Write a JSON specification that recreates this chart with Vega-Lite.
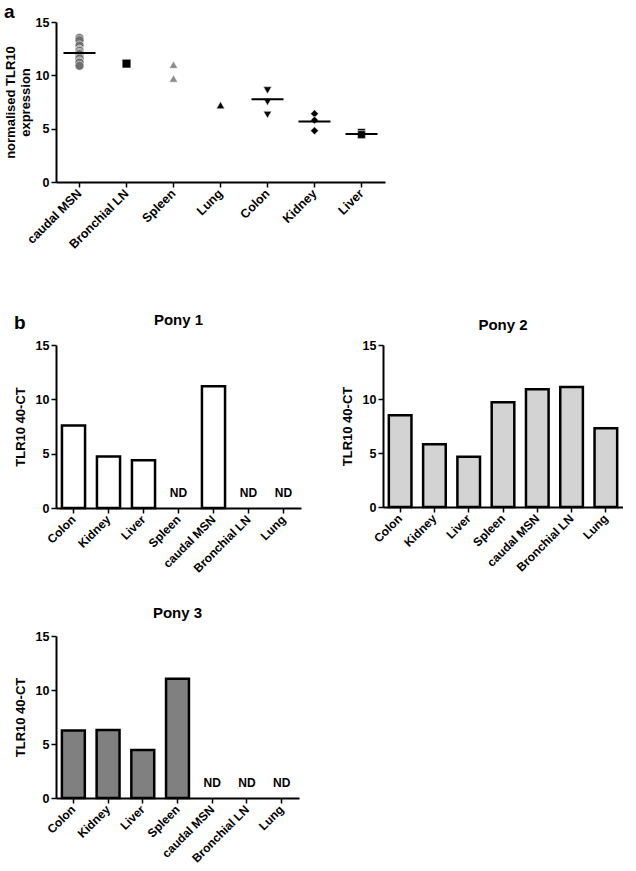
{
  "$schema": "https://vega.github.io/schema/vega-lite/v6.json",
  "padding": {"left": 4, "top": 3, "right": 0, "bottom": 0},
  "background": "white",
  "config": {
    "font": "Liberation Sans",
    "view": {"stroke": null},
    "scale": {"nice": false},
    "axis": {"domainColor": "black", "domainWidth": 2, "tickColor": "black", "tickWidth": 1.5, "tickSize": 5, "labelColor": "black", "labelFont": "Liberation Sans", "labelFontWeight": "bold", "labelFontSize": 12.5, "titleFont": "Liberation Sans", "titleFontWeight": "bold", "titleFontSize": 13, "titleColor": "black", "grid": false},
    "title": {"font": "Liberation Sans", "fontWeight": "bold", "fontSize": 15, "color": "black"}
  },
  "datasets": {
    "a": [
      {"tissue": "caudal MSN", "value": 13.5},
      {"tissue": "caudal MSN", "value": 13.3},
      {"tissue": "caudal MSN", "value": 12.8},
      {"tissue": "caudal MSN", "value": 12.4},
      {"tissue": "caudal MSN", "value": 12.3},
      {"tissue": "caudal MSN", "value": 12.1},
      {"tissue": "caudal MSN", "value": 12.0},
      {"tissue": "caudal MSN", "value": 11.7},
      {"tissue": "caudal MSN", "value": 11.6},
      {"tissue": "caudal MSN", "value": 11.3},
      {"tissue": "caudal MSN", "value": 11.2},
      {"tissue": "caudal MSN", "value": 10.9},
      {"tissue": "Bronchial LN", "value": 11.1},
      {"tissue": "Spleen", "value": 11.0},
      {"tissue": "Spleen", "value": 9.7},
      {"tissue": "Lung", "value": 7.2},
      {"tissue": "Colon", "value": 8.6},
      {"tissue": "Colon", "value": 8.6},
      {"tissue": "Colon", "value": 7.5},
      {"tissue": "Colon", "value": 6.3},
      {"tissue": "Kidney", "value": 6.4},
      {"tissue": "Kidney", "value": 5.8},
      {"tissue": "Kidney", "value": 4.8},
      {"tissue": "Liver", "value": 4.65},
      {"tissue": "Liver", "value": 4.4},
      {"tissue": "Liver", "value": 4.45}
    ],
    "b": [
      {"pony": "Pony 1", "tissue": "Colon", "value": 7.6},
      {"pony": "Pony 1", "tissue": "Kidney", "value": 4.75},
      {"pony": "Pony 1", "tissue": "Liver", "value": 4.4},
      {"pony": "Pony 1", "tissue": "Spleen", "value": null},
      {"pony": "Pony 1", "tissue": "caudal MSN", "value": 11.2},
      {"pony": "Pony 1", "tissue": "Bronchial LN", "value": null},
      {"pony": "Pony 1", "tissue": "Lung", "value": null},
      {"pony": "Pony 2", "tissue": "Colon", "value": 8.5},
      {"pony": "Pony 2", "tissue": "Kidney", "value": 5.8},
      {"pony": "Pony 2", "tissue": "Liver", "value": 4.65},
      {"pony": "Pony 2", "tissue": "Spleen", "value": 9.7},
      {"pony": "Pony 2", "tissue": "caudal MSN", "value": 10.9},
      {"pony": "Pony 2", "tissue": "Bronchial LN", "value": 11.1},
      {"pony": "Pony 2", "tissue": "Lung", "value": 7.3},
      {"pony": "Pony 3", "tissue": "Colon", "value": 6.25},
      {"pony": "Pony 3", "tissue": "Kidney", "value": 6.3},
      {"pony": "Pony 3", "tissue": "Liver", "value": 4.45},
      {"pony": "Pony 3", "tissue": "Spleen", "value": 11.05},
      {"pony": "Pony 3", "tissue": "caudal MSN", "value": null},
      {"pony": "Pony 3", "tissue": "Bronchial LN", "value": null},
      {"pony": "Pony 3", "tissue": "Lung", "value": null}
    ]
  },
  "spacing": 62,
  "vconcat": [
    {
      "title": {"text": "a", "anchor": "start", "fontSize": 19, "offset": -4, "dy": 2},
      "width": 329,
      "height": 160,
      "data": {"name": "a"},
      "layer": [
        {
          "mark": {"type": "point", "filled": true, "opacity": 1, "stroke": "white", "strokeWidth": 0.6},
          "encoding": {
            "x": {"field": "tissue", "type": "nominal", "sort": ["caudal MSN", "Bronchial LN", "Spleen", "Lung", "Colon", "Kidney", "Liver"], "scale": {"type": "band", "paddingInner": 0.3, "paddingOuter": 0.15}, "axis": {"title": null, "labelAngle": -45, "labelAlign": "right", "labelBaseline": "middle", "labelPadding": 4, "labelFontSize": 12.5}},
            "y": {"field": "value", "type": "quantitative", "scale": {"domain": [0, 15], "nice": false}, "axis": {"values": [0, 5, 10, 15], "title": ["normalised TLR10", "expression"], "titlePadding": 3, "titleLineHeight": 15}},
            "shape": {"field": "tissue", "type": "nominal", "scale": {"domain": ["caudal MSN", "Bronchial LN", "Spleen", "Lung", "Colon", "Kidney", "Liver"], "range": ["circle", "square", "triangle-up", "triangle-up", "triangle-down", "diamond", "square"]}, "legend": null},
            "color": {"field": "tissue", "type": "nominal", "scale": {"domain": ["caudal MSN", "Bronchial LN", "Spleen", "Lung", "Colon", "Kidney", "Liver"], "range": ["#6f6f6f", "#000000", "#8c8c8c", "#000000", "#000000", "#000000", "#000000"]}, "legend": null},
            "size": {"field": "tissue", "type": "nominal", "scale": {"domain": ["caudal MSN", "Bronchial LN", "Spleen", "Lung", "Colon", "Kidney", "Liver"], "range": [80, 60, 80, 45, 60, 80, 60]}, "legend": null}
          }
        },
        {
          "transform": [{"filter": {"field": "tissue", "oneOf": ["caudal MSN", "Colon", "Kidney", "Liver"]}}],
          "mark": {"type": "tick", "orient": "horizontal", "size": 32, "thickness": 2, "color": "black"},
          "encoding": {
            "x": {"field": "tissue", "type": "nominal", "sort": ["caudal MSN", "Bronchial LN", "Spleen", "Lung", "Colon", "Kidney", "Liver"]},
            "y": {"aggregate": "mean", "field": "value", "type": "quantitative"}
          }
        }
      ]
    },
    {
      "spacing": 31,
      "vconcat": [
        {
          "spacing": 40,
          "align": "none",
          "hconcat": [
            {
              "title": {"text": "b", "anchor": "start", "fontSize": 19, "offset": -20},
              "hconcat": [
                {
                  "title": {"text": "Pony 1", "offset": 11},
                  "width": 245,
                  "height": 163,
                  "data": {"name": "b"},
                  "transform": [{"filter": "datum.pony == 'Pony 1'"}],
                  "layer": [
                    {
                      "mark": {"type": "bar", "fill": "#ffffff", "stroke": "black", "strokeWidth": 2.5},
                      "encoding": {
                        "x": {"field": "tissue", "type": "nominal", "sort": ["Colon", "Kidney", "Liver", "Spleen", "caudal MSN", "Bronchial LN", "Lung"], "scale": {"paddingInner": 0.34, "paddingOuter": 0.17}, "axis": {"title": null, "labelAngle": -45, "labelAlign": "right", "labelBaseline": "middle", "labelPadding": 4, "labelFontSize": 12}},
                        "y": {"field": "value", "type": "quantitative", "scale": {"domain": [0, 15], "nice": false}, "axis": {"values": [0, 5, 10, 15], "title": "TLR10 40-CT", "titlePadding": 8}}
                      }
                    },
                    {
                      "transform": [{"filter": "datum.value == null"}],
                      "mark": {"type": "text", "text": "ND", "fontWeight": "bold", "fontSize": 12, "dy": -15, "color": "black"},
                      "encoding": {
                        "x": {"field": "tissue", "type": "nominal", "sort": ["Colon", "Kidney", "Liver", "Spleen", "caudal MSN", "Bronchial LN", "Lung"]},
                        "y": {"datum": 0, "type": "quantitative"}
                      }
                    }
                  ]
                }
              ]
            },
            {
              "title": {"text": "Pony 2", "offset": 6},
              "width": 240,
              "height": 162,
              "data": {"name": "b"},
              "transform": [{"filter": "datum.pony == 'Pony 2'"}],
              "layer": [
                {
                  "mark": {"type": "bar", "fill": "#d3d3d3", "stroke": "black", "strokeWidth": 2.5},
                  "encoding": {
                    "x": {"field": "tissue", "type": "nominal", "sort": ["Colon", "Kidney", "Liver", "Spleen", "caudal MSN", "Bronchial LN", "Lung"], "scale": {"paddingInner": 0.34, "paddingOuter": 0.17}, "axis": {"title": null, "labelAngle": -45, "labelAlign": "right", "labelBaseline": "middle", "labelPadding": 4, "labelFontSize": 12}},
                    "y": {"field": "value", "type": "quantitative", "scale": {"domain": [0, 15], "nice": false}, "axis": {"values": [0, 5, 10, 15], "title": "TLR10 40-CT", "titlePadding": 8}}
                  }
                }
              ]
            }
          ]
        },
        {
          "title": {"text": "Pony 3", "offset": 9},
          "width": 243,
          "height": 162,
          "data": {"name": "b"},
          "transform": [{"filter": "datum.pony == 'Pony 3'"}],
          "layer": [
            {
              "mark": {"type": "bar", "fill": "#808080", "stroke": "black", "strokeWidth": 2.5},
              "encoding": {
                "x": {"field": "tissue", "type": "nominal", "sort": ["Colon", "Kidney", "Liver", "Spleen", "caudal MSN", "Bronchial LN", "Lung"], "scale": {"paddingInner": 0.34, "paddingOuter": 0.17}, "axis": {"title": null, "labelAngle": -45, "labelAlign": "right", "labelBaseline": "middle", "labelPadding": 4, "labelFontSize": 12}},
                "y": {"field": "value", "type": "quantitative", "scale": {"domain": [0, 15], "nice": false}, "axis": {"values": [0, 5, 10, 15], "title": "TLR10 40-CT", "titlePadding": 8}}
              }
            },
            {
              "transform": [{"filter": "datum.value == null"}],
              "mark": {"type": "text", "text": "ND", "fontWeight": "bold", "fontSize": 12, "dy": -15, "color": "black"},
              "encoding": {
                "x": {"field": "tissue", "type": "nominal", "sort": ["Colon", "Kidney", "Liver", "Spleen", "caudal MSN", "Bronchial LN", "Lung"]},
                "y": {"datum": 0, "type": "quantitative"}
              }
            }
          ]
        }
      ]
    }
  ]
}
